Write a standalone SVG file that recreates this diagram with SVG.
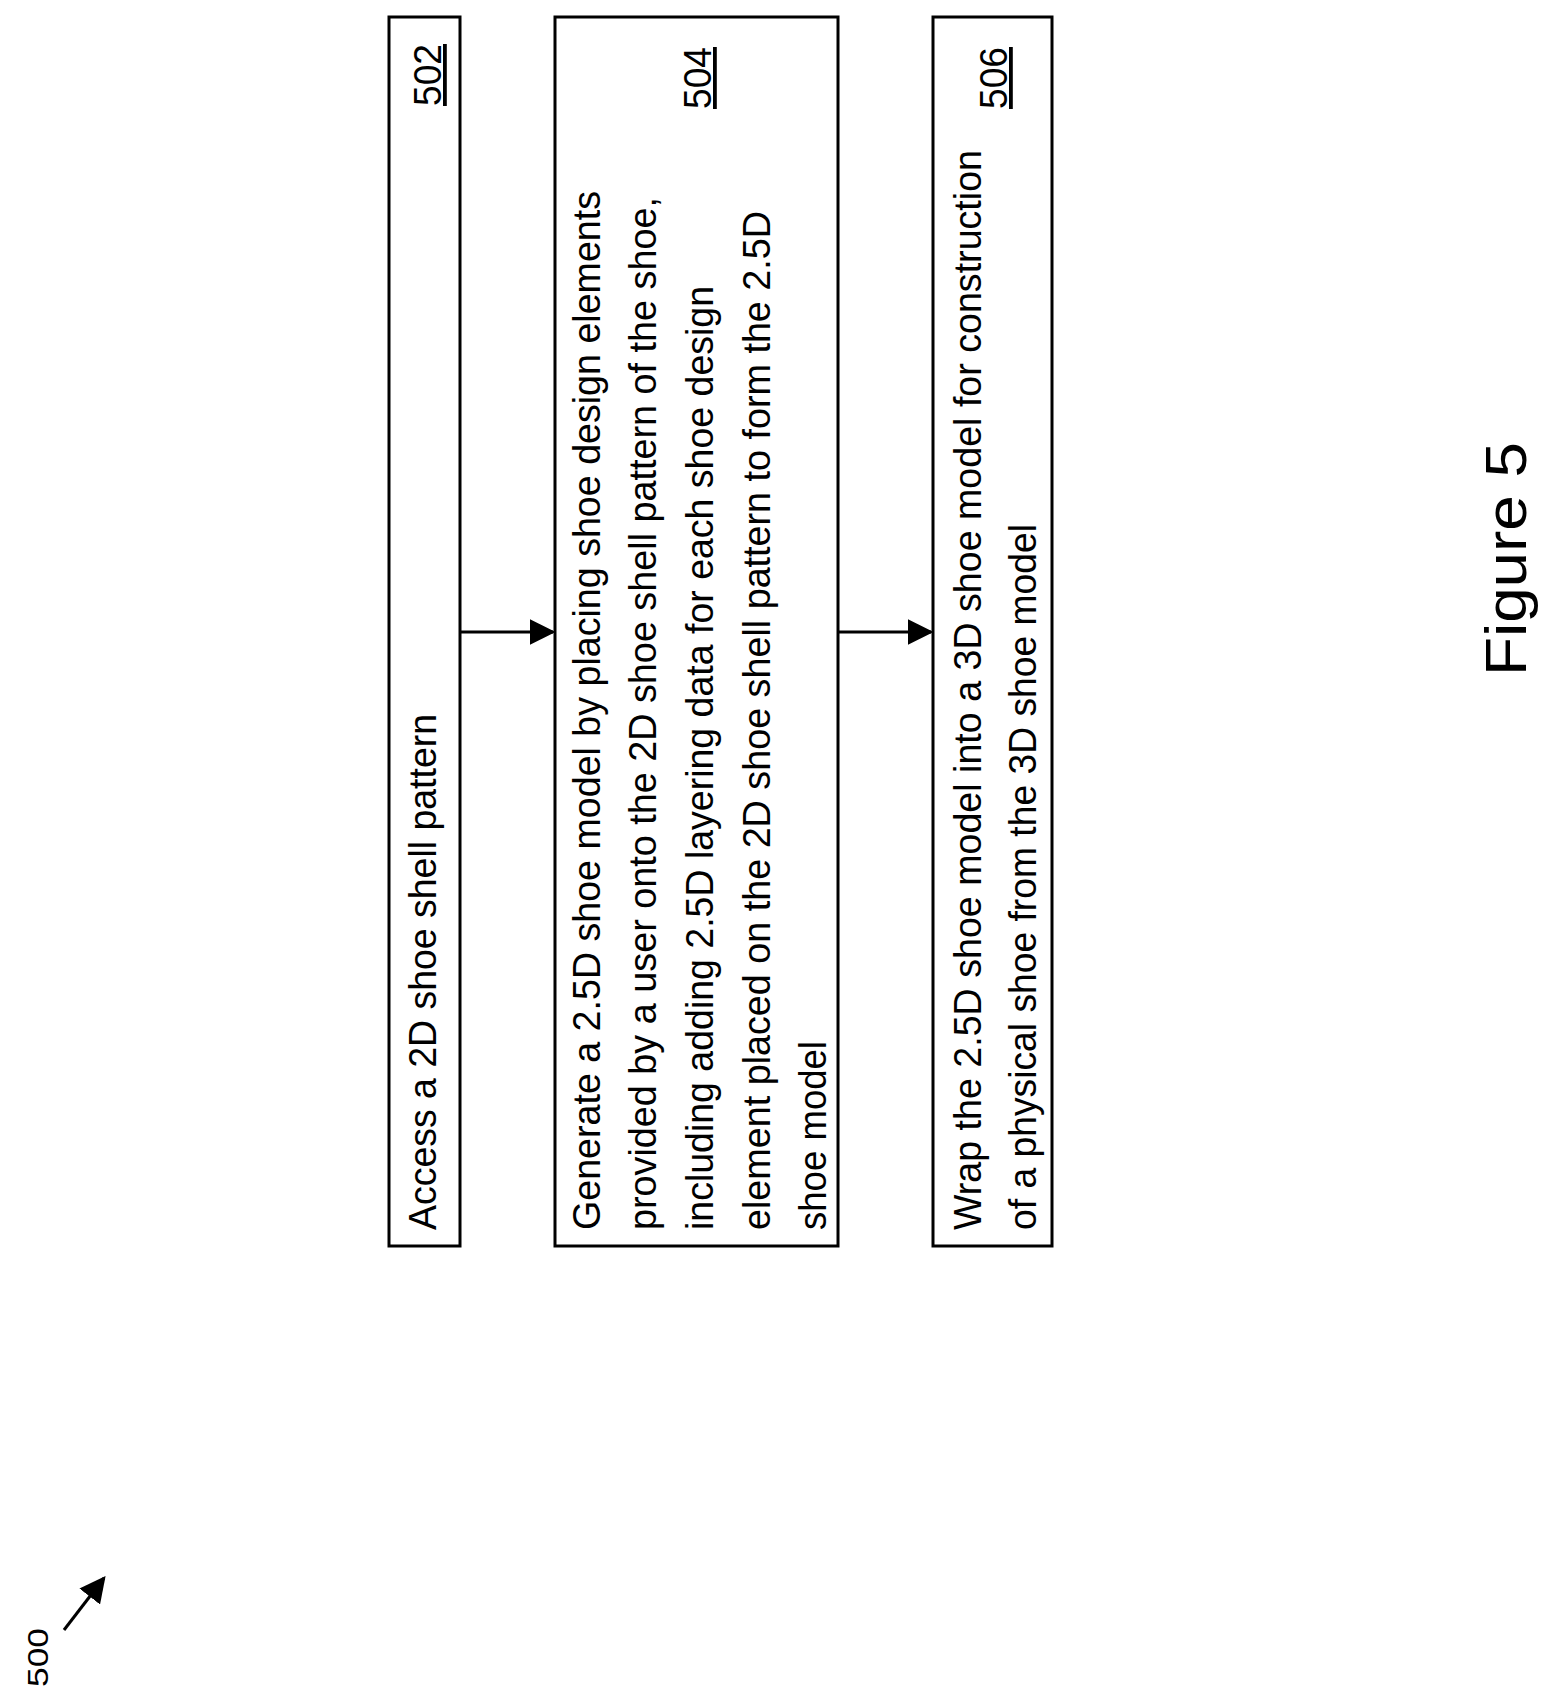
<svg xmlns="http://www.w3.org/2000/svg" width="1548" height="1707" viewBox="0 0 1548 1707">
<style>
.b{fill:#fff;stroke:#000;stroke-width:3}
.t{font-family:"Liberation Sans",Arial,sans-serif;font-size:38px;fill:#000}
.l{stroke:#000;stroke-width:3;fill:none}
</style>
<defs><marker id="a" markerWidth="10" markerHeight="10" refX="9" refY="5" orient="auto" markerUnits="userSpaceOnUse" viewBox="0 0 10 10"><path d="M0,0 L10,5 L0,10 z"/></marker>
<marker id="m" viewBox="0 0 10 10" refX="9" refY="5" markerWidth="26" markerHeight="26" orient="auto" markerUnits="userSpaceOnUse"><path d="M0,0 L10,5 L0,10 z"/></marker></defs>
<rect width="1548" height="1707" fill="#fff"/>
<g id="n502"><rect class="b" x="389" y="17" width="71" height="1229"/>
<text class="t" transform="translate(436,1230) rotate(-90)" textLength="516" lengthAdjust="spacingAndGlyphs">Access a 2D shoe shell pattern</text>
<text class="t" transform="translate(441,106) rotate(-90)" textLength="62" lengthAdjust="spacingAndGlyphs" text-decoration="underline">502</text></g>
<g id="n504"><rect class="b" x="555" y="17" width="283" height="1229"/>
<text class="t" transform="translate(600,1230) rotate(-90)" textLength="1039" lengthAdjust="spacingAndGlyphs">Generate a 2.5D shoe model by placing shoe design elements</text>
<text class="t" transform="translate(656,1230) rotate(-90)" textLength="1033" lengthAdjust="spacingAndGlyphs">provided by a user onto the 2D shoe shell pattern of the shoe,</text>
<text class="t" transform="translate(713,1230) rotate(-90)" textLength="944" lengthAdjust="spacingAndGlyphs">including adding 2.5D layering data for each shoe design</text>
<text class="t" transform="translate(770,1230) rotate(-90)" textLength="1019" lengthAdjust="spacingAndGlyphs">element placed on the 2D shoe shell pattern to form the 2.5D</text>
<text class="t" transform="translate(826,1230) rotate(-90)" textLength="189" lengthAdjust="spacingAndGlyphs">shoe model</text>
<text class="t" transform="translate(711,109) rotate(-90)" textLength="62" lengthAdjust="spacingAndGlyphs" text-decoration="underline">504</text></g>
<g id="n506"><rect class="b" x="933" y="17" width="119" height="1229"/>
<text class="t" transform="translate(981,1230) rotate(-90)" textLength="1080" lengthAdjust="spacingAndGlyphs">Wrap the 2.5D shoe model into a 3D shoe model for construction</text>
<text class="t" transform="translate(1036,1230) rotate(-90)" textLength="706" lengthAdjust="spacingAndGlyphs">of a physical shoe from the 3D shoe model</text>
<text class="t" transform="translate(1007,109) rotate(-90)" textLength="62" lengthAdjust="spacingAndGlyphs" text-decoration="underline">506</text></g>
<g id="connectors">
<line class="l" x1="460" y1="632" x2="553" y2="632" marker-end="url(#m)"/>
<line class="l" x1="838" y1="632" x2="931" y2="632" marker-end="url(#m)"/>
<line class="l" x1="64" y1="1630" x2="104" y2="1578" marker-end="url(#m)"/>
</g>
<text class="t" style="font-size:58px" transform="translate(1526,676) rotate(-90)" textLength="234" lengthAdjust="spacingAndGlyphs">Figure 5</text>
<text class="t" style="font-size:30px" transform="translate(48,1687) rotate(-90)" textLength="59" lengthAdjust="spacingAndGlyphs">500</text>
</svg>
